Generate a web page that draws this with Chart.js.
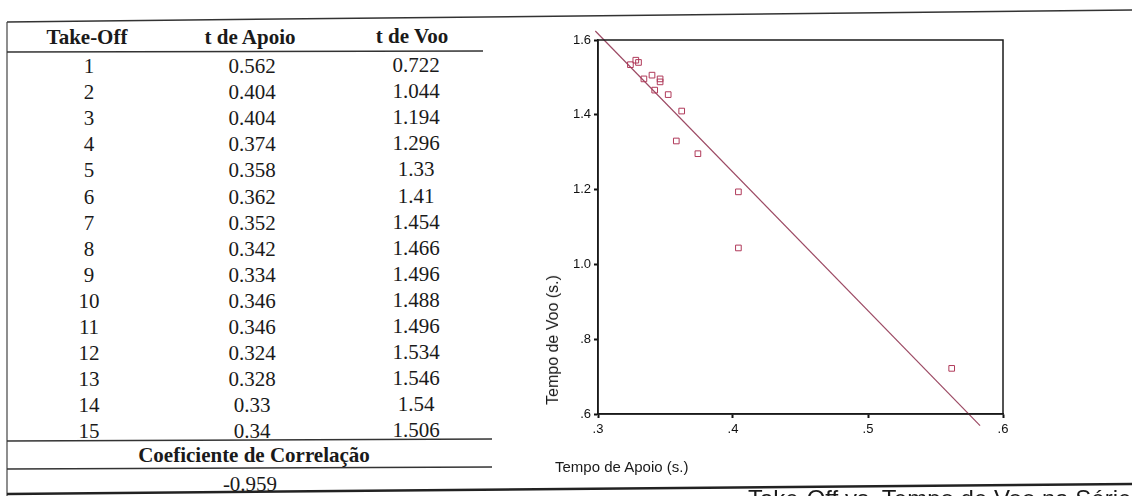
<!DOCTYPE html>
<html>
<head>
<meta charset="utf-8">
<script src="https://cdn.jsdelivr.net/npm/chart.js@4/dist/chart.umd.min.js"></script>
<style>
  body { margin: 0; width: 1132px; height: 496px; overflow: hidden; background: #fff; position: relative; }
  .cel { position: absolute; transform: translate(-50%, -50%); font-family: "Liberation Serif", "Times New Roman", serif; font-size: 21px; line-height: 24px; color: #1a1a1a; white-space: nowrap; }
  .neg { font-weight: bold; }
  #grafico { position: absolute; left: 520px; top: 0; }
  .titulo { position: absolute; font-family: "Liberation Sans", Arial, sans-serif; color: #1a1a1a; white-space: nowrap; }
  #tituloX { left: 555px; top: 458px; font-size: 15px; }
  #tituloY { left: 553px; top: 340px; font-size: 16px; transform: translate(-50%, -50%) rotate(-90deg); }
  #legenda { left: 748px; top: 486px; font-size: 24px; line-height: 26px; }
  svg { position: absolute; left: 0; top: 0; }
</style>
</head>
<body>
<svg width="1132" height="496">
  <line x1="7" y1="22" x2="1132" y2="10" stroke="#333" stroke-width="1.5"/>
  <line x1="7" y1="22" x2="7" y2="496" stroke="#444" stroke-width="1.2"/>
  <line x1="7" y1="52" x2="483" y2="51" stroke="#333" stroke-width="1.5"/>
  <line x1="7" y1="441" x2="492" y2="439" stroke="#333" stroke-width="1.5"/>
  <line x1="7" y1="469" x2="492" y2="467" stroke="#333" stroke-width="1.5"/>
  <line x1="7" y1="494" x2="1132" y2="484" stroke="#222" stroke-width="2.5"/>
</svg>
<div id="tabela"></div>
<canvas id="grafico" width="600" height="496"></canvas>
<div class="titulo" id="tituloX">Tempo de Apoio (s.)</div>
<div class="titulo" id="tituloY">Tempo de Voo (s.)</div>
<div class="titulo" id="legenda">Take-Off vs. Tempo de Voo na Série</div>
<script>
// dados dos 15 take-offs
const takeOffs = [1, 2, 3, 4, 5, 6, 7, 8, 9, 10, 11, 12, 13, 14, 15];
const tempoApoio = [0.562, 0.404, 0.404, 0.374, 0.358, 0.362, 0.352, 0.342, 0.334, 0.346, 0.346, 0.324, 0.328, 0.33, 0.34];
const tempoVoo = [0.722, 1.044, 1.194, 1.296, 1.33, 1.41, 1.454, 1.466, 1.496, 1.488, 1.496, 1.534, 1.546, 1.54, 1.506];
const coefCorrelacao = -0.959;

// reta de regressão (pontos extremos)
const retaX = [0.298, 0.583];
const retaY = [1.624, 0.569];

const cabecalho = ["Take-Off", "t de Apoio", "t de Voo"];
const colunasX = [89, 252, 416];

// montar a tabela
const tabela = document.querySelector("#tabela");
function celula(texto, x, y, negrito) {
  const d = document.createElement("div");
  d.className = "cel" + (negrito ? " neg" : "");
  d.style.left = x + "px";
  d.style.top = y + "px";
  d.textContent = texto;
  tabela.appendChild(d);
}

celula(cabecalho[0], 87, 37, true);
celula(cabecalho[1], 250, 37, true);
celula(cabecalho[2], 412, 36, true);
takeOffs.forEach((n, i) => {
  const y = 66 + i * 26.1;
  celula(String(n), colunasX[0], y);
  celula(String(tempoApoio[i]), colunasX[1], y);
  celula(String(tempoVoo[i]), colunasX[2], y - 1);
});
celula("Coeficiente de Correlação", 254, 455, true);
celula(String(coefCorrelacao), 250, 484);

// gráfico de dispersão
const pontos = tempoApoio.map((x, i) => ({ x: x, y: tempoVoo[i] }));
const reta = retaX.map((x, i) => ({ x: x, y: retaY[i] }));

const moldura = {
  id: "moldura",
  afterDatasetsDraw(chart) {
    const a = chart.chartArea;
    const ctx = chart.ctx;
    ctx.save();
    ctx.strokeStyle = "#1a1a1a";
    ctx.lineWidth = 1.5;
    ctx.strokeRect(a.left, a.top, a.right - a.left, a.bottom - a.top);
    ctx.restore();
  }
};

const formatar = (v) => {
  const s = Number(v).toFixed(1);
  return s.startsWith("0") ? s.slice(1) : s;
};

const eixo = {
  grid: { display: true, drawOnChartArea: false, drawTicks: true, tickLength: 4, tickWidth: 2, tickColor: "#111" },
  border: { display: true, color: "#1a1a1a", width: 1.5 },
};

new Chart(document.getElementById("grafico"), {
  type: "scatter",
  data: {
    datasets: [
      {
        data: pontos,
        pointStyle: "rect",
        pointRadius: 4,
        pointBorderWidth: 1,
        borderColor: "#b03a5a",
        backgroundColor: "rgba(0,0,0,0)",
      },
      {
        type: "line",
        data: reta,
        showLine: true,
        pointRadius: 0,
        borderColor: "#9c4a64",
        borderWidth: 1.2,
        clip: false,
      },
    ],
  },
  options: {
    responsive: false,
    animation: false,
    devicePixelRatio: 1,
    layout: { padding: { top: 40, right: 117, left: 0, bottom: 0 } },
    plugins: { legend: { display: false }, tooltip: { enabled: false } },
    scales: {
      x: {
        ...eixo,
        type: "linear",
        min: 0.3,
        max: 0.6,
        ticks: { stepSize: 0.1, padding: 4, color: "#111", font: { family: "Liberation Sans", size: 13 }, callback: formatar },
        afterFit: (s) => { s.height = 82; },
      },
      y: {
        ...eixo,
        min: 0.6,
        max: 1.6,
        ticks: { stepSize: 0.2, padding: 3, color: "#111", font: { family: "Liberation Sans", size: 13 }, callback: formatar },
        afterFit: (s) => { s.width = 78; },
      },
    },
  },
  plugins: [moldura],
});
</script>
</body>
</html>
